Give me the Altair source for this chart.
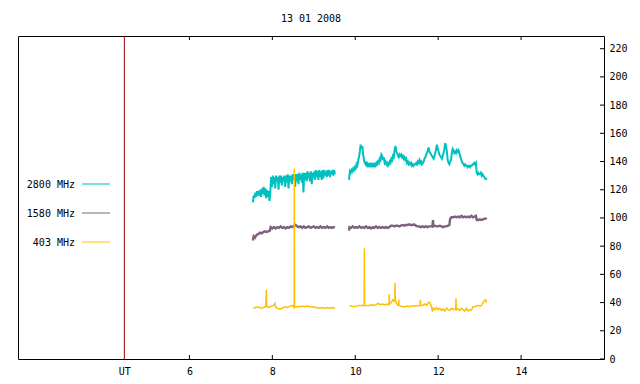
import altair as alt
import pandas as pd

title_text = "13 01 2008"
x_ticks = [6, 8, 10, 12, 14]
y_ticks = [0, 20, 40, 60, 80, 100, 120, 140, 160, 180, 200, 220]
ut_pos = 4.43
x_domain = [1.865, 16.0]
y_domain = [0, 229]

series_names = ["2800 MHz", "1580 MHz", "403 MHz"]
series_colors = ["#00c0c0", "#806080", "#ffc000"]
series_widths = [2, 2.4, 1.5]
ut_color = "#a00000"

# ---- 2800 MHz ----
t2800_a = [7.53, 7.55, 7.57, 7.59, 7.61, 7.63, 7.65, 7.67, 7.69, 7.71,
           7.73, 7.75, 7.77, 7.79, 7.81, 7.83, 7.85, 7.87, 7.89, 7.91,
           7.93, 7.95, 7.97, 7.99, 8.01, 8.03, 8.05, 8.07, 8.09, 8.11,
           8.13, 8.15, 8.17, 8.19, 8.21, 8.23, 8.25, 8.27, 8.29, 8.31,
           8.33, 8.35, 8.37, 8.39, 8.41, 8.43, 8.45, 8.47, 8.49, 8.51,
           8.53, 8.55, 8.57, 8.59, 8.61, 8.63, 8.65, 8.67, 8.69, 8.71,
           8.73, 8.75, 8.77, 8.79, 8.81, 8.83, 8.85, 8.87, 8.89, 8.91,
           8.93, 8.95, 8.97, 8.99, 9.01, 9.03, 9.05, 9.07, 9.09, 9.11,
           9.13, 9.15, 9.17, 9.19, 9.21, 9.23, 9.25, 9.27, 9.29, 9.31,
           9.33, 9.35, 9.37, 9.39, 9.41, 9.43, 9.45, 9.47, 9.49, 9.51]
v2800_a = [111, 116, 114, 118, 115, 119, 116, 118, 117, 120,
           115, 121, 117, 122, 116, 121, 114, 120, 115, 119,
           112, 118, 129, 122, 130, 124, 129, 121, 130, 126,
           129, 120, 130, 125, 130, 123, 129, 126, 130, 122,
           130, 125, 131, 121, 130, 126, 130, 124, 131, 127,
           131, 122, 131, 126, 131, 124, 132, 127, 131, 125,
           132, 118, 132, 127, 132, 126, 133, 128, 132, 126,
           133, 124, 132, 128, 133, 127, 134, 129, 133, 127,
           134, 129, 133, 127, 134, 128, 134, 130, 133, 129,
           134, 130, 134, 129, 133, 131, 134, 130, 134, 131]
t2800_b = [9.85, 9.87, 9.89, 9.91, 9.93, 9.95, 9.97, 9.99, 10.01, 10.03,
           10.05, 10.07, 10.09, 10.11, 10.13, 10.15, 10.17, 10.19, 10.21, 10.23,
           10.25, 10.27, 10.29, 10.31, 10.33, 10.35, 10.37, 10.39, 10.41, 10.43,
           10.45, 10.47, 10.49, 10.51, 10.53, 10.55, 10.57, 10.59, 10.61, 10.63,
           10.65, 10.67, 10.69, 10.71, 10.73, 10.75, 10.77, 10.79, 10.81, 10.83,
           10.85, 10.87, 10.89, 10.91, 10.93, 10.95, 10.97, 10.99, 11.01, 11.03,
           11.05, 11.07, 11.09, 11.11, 11.13, 11.15, 11.17, 11.19, 11.21, 11.23,
           11.25, 11.27, 11.29, 11.31, 11.33, 11.35, 11.37, 11.39, 11.41, 11.43,
           11.45, 11.47, 11.49, 11.51, 11.53, 11.55, 11.57, 11.59, 11.61, 11.63,
           11.65, 11.67, 11.69, 11.71, 11.73, 11.75, 11.77, 11.79, 11.81, 11.83,
           11.85, 11.87, 11.89, 11.91, 11.93, 11.95, 11.97, 11.99, 12.01, 12.03,
           12.05, 12.07, 12.09, 12.11, 12.13, 12.15, 12.17, 12.19, 12.21, 12.23,
           12.25, 12.27, 12.29, 12.31, 12.33, 12.35, 12.37, 12.39, 12.41, 12.43,
           12.45, 12.47, 12.49, 12.51, 12.53, 12.55, 12.57, 12.59, 12.61, 12.63,
           12.65, 12.67, 12.69, 12.71, 12.73, 12.75, 12.77, 12.79, 12.81, 12.83,
           12.85, 12.87, 12.89, 12.91, 12.93, 12.95, 12.97, 12.99, 13.01, 13.03,
           13.05, 13.07, 13.09, 13.11, 13.13, 13.15, 13.17]
v2800_b = [127, 133, 132, 134, 133, 135, 134, 136, 135, 138,
           137, 141, 143, 147, 152, 149, 151, 145, 141, 139,
           138, 140, 136, 138, 137, 139, 136, 138, 137, 139,
           136, 138, 137, 139, 138, 140, 139, 142, 141, 145,
           144, 141, 143, 139, 140, 138, 139, 137, 138, 140,
           139, 142, 141, 144, 143, 148, 151, 147, 146, 144,
           143, 145, 144, 145, 143, 144, 142, 143, 141, 142,
           139, 140, 138, 139, 138, 139, 137, 138, 137, 138,
           138, 139, 138, 140, 139, 141, 139, 140, 138, 139,
           140, 142, 143, 145, 146, 148, 150, 147, 146, 145,
           144, 143, 142, 144, 146, 149, 152, 149, 147, 145,
           144, 143, 142, 144, 146, 149, 153, 151, 147, 141,
           139, 138, 140, 141, 146, 149, 148, 146, 147, 146,
           148, 147, 148, 146, 144, 142, 140, 139, 138, 137,
           138, 137, 137, 136, 137, 137, 136, 137, 137, 138,
           138, 139, 138, 139, 132, 131, 132, 131, 131, 132,
           130, 131, 130, 129, 128, 128, 127]

# ---- 1580 MHz ----
t1580_a = [7.53, 7.55, 7.58, 7.62, 7.66, 7.70, 7.74, 7.78, 7.82, 7.86,
           7.90, 7.94, 7.96, 8.00, 8.04, 8.08, 8.12, 8.16, 8.20, 8.24,
           8.28, 8.32, 8.36, 8.40, 8.44, 8.48, 8.52, 8.56, 8.60, 8.64,
           8.68, 8.72, 8.76, 8.80, 8.84, 8.88, 8.92, 8.96, 9.00, 9.04,
           9.08, 9.12, 9.16, 9.20, 9.24, 9.28, 9.32, 9.36, 9.40, 9.44,
           9.48, 9.51]
v1580_a = [84, 87, 86, 88, 88.5, 89.5, 89, 90, 90.5, 90,
           90.5, 91, 93.5, 92.5, 93.5, 92.5, 93.5, 93, 94, 93,
           93.5, 92.5, 93.5, 93, 94, 93.5, 94.5, 95, 94, 93.5,
           94, 93, 94, 93, 93.5, 94, 93, 93.5, 94, 93,
           93.5, 93, 94, 93, 93.5, 93, 94, 93, 93.5, 93,
           93.5, 93]
t1580_b = [9.85, 9.86, 9.90, 9.94, 9.98, 10.02, 10.06, 10.10, 10.14, 10.18,
           10.22, 10.26, 10.30, 10.34, 10.38, 10.42, 10.46, 10.50, 10.54, 10.58,
           10.62, 10.66, 10.70, 10.74, 10.78, 10.82, 10.86, 10.90, 10.94, 10.98,
           11.02, 11.06, 11.10, 11.14, 11.18, 11.22, 11.26, 11.30, 11.34, 11.38,
           11.42, 11.46, 11.50, 11.54, 11.58, 11.62, 11.66, 11.70, 11.74, 11.78,
           11.82, 11.86, 11.875, 11.885, 11.92, 11.96, 12.00, 12.04, 12.08, 12.12,
           12.16, 12.20, 12.24, 12.27, 12.29, 12.32, 12.36, 12.40, 12.44, 12.48,
           12.52, 12.56, 12.60, 12.64, 12.68, 12.72, 12.76, 12.80, 12.84, 12.88,
           12.91, 12.93, 12.96, 13.00, 13.04, 13.08, 13.12, 13.15, 13.17]
v1580_b = [91, 93.5, 93, 94, 93, 93.5, 93, 94, 93, 93.5,
           93, 94, 93, 93.5, 92.5, 93.5, 93, 94, 93, 93.5,
           93, 93.5, 93, 93.5, 93, 93.5, 94.5, 94.5, 94, 94.5,
           94.5, 94, 94.5, 95, 94.5, 95, 95, 95.5, 95, 95,
           95.5, 94.5, 94, 94, 93.5, 94, 93.5, 94, 93.5, 94,
           94, 94, 98.5, 94, 94.5, 94, 94, 94.5, 94, 93.5,
           94, 94, 94.5, 95, 99.5, 100.5, 100.5, 101, 100.5, 101,
           100.5, 101.5, 100.5, 101, 100.5, 101, 100.5, 101.5, 100.5, 101,
           101.5, 98.5, 98.5, 99, 98.5, 99, 99.5, 99.5, 100]

# ---- 403 MHz ----
t403_a = [7.54, 7.60, 7.66, 7.72, 7.78, 7.84, 7.855, 7.865, 7.92, 7.98,
          8.03, 8.065, 8.075, 8.12, 8.18, 8.24, 8.30, 8.36, 8.42, 8.48,
          8.525, 8.53, 8.535, 8.60, 8.66, 8.72, 8.78, 8.84, 8.90, 8.96,
          9.02, 9.08, 9.14, 9.20, 9.26, 9.32, 9.38, 9.44, 9.51]
v403_a = [36, 36.5, 37, 36, 36.5, 37, 49, 37, 36.5, 37.5,
          38, 39.5, 37, 36, 35.5, 36, 37, 36.5, 37.5, 38,
          36.5, 135, 37, 37, 37, 37.5, 37, 37.5, 37, 37,
          36.5, 36.5, 36, 36.5, 36, 36.5, 36, 36.5, 36]
t403_b = [9.86, 9.92, 9.98, 10.04, 10.10, 10.16, 10.215, 10.22, 10.225, 10.28,
          10.34, 10.40, 10.46, 10.50, 10.55, 10.60, 10.66, 10.72, 10.78, 10.815,
          10.82, 10.825, 10.87, 10.90, 10.93, 10.955, 10.96, 10.965, 10.99, 11.03,
          11.045, 11.05, 11.055, 11.10, 11.15, 11.20, 11.25, 11.30, 11.35, 11.40,
          11.45, 11.50, 11.565, 11.57, 11.575, 11.62, 11.68, 11.72, 11.76, 11.80,
          11.83, 11.86, 11.88, 11.92, 11.96, 12.00, 12.04, 12.08, 12.12, 12.16,
          12.20, 12.24, 12.28, 12.32, 12.36, 12.40, 12.425, 12.43, 12.435, 12.48,
          12.52, 12.56, 12.60, 12.64, 12.68, 12.72, 12.76, 12.80, 12.84, 12.88,
          12.92, 12.96, 13.00, 13.04, 13.08, 13.11, 13.14, 13.17]
v403_b = [37.5, 37.5, 37, 37.5, 38, 38, 38, 78.5, 38, 38,
          38, 38.5, 38, 38.5, 39.5, 38.5, 39, 38.5, 39, 38.5,
          46, 39, 40, 42, 41, 43, 54, 42, 40, 38,
          38, 42, 38, 37.5, 37, 37, 37.5, 37, 37.5, 37.5,
          37.5, 37.5, 38, 42, 38, 38, 39, 38, 40, 40,
          38, 33.7, 36, 35, 36.5, 35, 36, 34.5, 35.5, 34,
          36, 35, 34.5, 36, 35, 35.5, 35, 43, 35, 35.5,
          34.5, 36, 35, 34, 36, 34, 35, 34.5, 37, 37,
          37.5, 38, 37.5, 38, 40, 41, 42, 40]

segments = [
    ("2800 MHz", "a", t2800_a, v2800_a),
    ("2800 MHz", "b", t2800_b, v2800_b),
    ("1580 MHz", "a", t1580_a, v1580_a),
    ("1580 MHz", "b", t1580_b, v1580_b),
    ("403 MHz", "a", t403_a, v403_a),
    ("403 MHz", "b", t403_b, v403_b),
]

W, H = 586, 323
FONT = "DejaVu Sans Mono"

xs = alt.Scale(domain=x_domain, nice=False, zero=False)
ys = alt.Scale(domain=y_domain, nice=False, zero=False)
x_axis = alt.Axis(values=[ut_pos] + x_ticks,
                  labelExpr="datum.value < 5 ? 'UT' : datum.label",
                  tickSize=0, domain=False, grid=False, title=None,
                  labelPadding=7, labelOverlap=False, labelFlush=False)
y_axis = alt.Axis(orient="right", values=y_ticks, tickSize=0, domain=False,
                  grid=False, title=None, labelPadding=5, labelOverlap=False,
                  labelFlush=False)

layers = []

# UT marker line
ut_df = pd.DataFrame({"t": [ut_pos]})
layers.append(alt.Chart(ut_df).mark_rule(color=ut_color, strokeWidth=1).encode(
    x=alt.X("t:Q", scale=xs, axis=x_axis)))

# series lines
for name, color, sw in zip(series_names, series_colors, series_widths):
    rows = []
    for sname, seg, ts, vs in segments:
        if sname != name:
            continue
        for t, v in zip(ts, vs):
            rows.append({"t": t, "v": v, "seg": seg})
    d = pd.DataFrame(rows)
    layers.append(alt.Chart(d).mark_line(color=color, strokeWidth=sw, clip=True).encode(
        x=alt.X("t:Q", scale=xs, axis=x_axis),
        y=alt.Y("v:Q", scale=ys, axis=y_axis),
        detail="seg:N",
    ))

# tick marks (inward, gnuplot style)
xt_df = pd.DataFrame({"t": x_ticks})
yt_df = pd.DataFrame({"v": y_ticks})
layers.append(alt.Chart(xt_df).mark_rule(color="black", strokeWidth=1).encode(
    x=alt.X("t:Q", scale=xs, axis=x_axis), y=alt.value(H - 4), y2=alt.value(H)))
layers.append(alt.Chart(xt_df).mark_rule(color="black", strokeWidth=1).encode(
    x=alt.X("t:Q", scale=xs, axis=x_axis), y=alt.value(0), y2=alt.value(4)))
layers.append(alt.Chart(yt_df).mark_rule(color="black", strokeWidth=1).encode(
    y=alt.Y("v:Q", scale=ys, axis=y_axis), x=alt.value(W - 4), x2=alt.value(W)))

# legend (text left of line sample, as in gnuplot)
one = pd.DataFrame({"k": [0]})
for i, (name, color) in enumerate(zip(series_names, series_colors)):
    ly = 149 + 29 * i
    layers.append(alt.Chart(one).mark_text(
        text=name, align="right", baseline="middle", font=FONT, fontSize=10,
        color="black").encode(x=alt.value(57), y=alt.value(ly)))
    layers.append(alt.Chart(one).mark_rule(color=color, strokeWidth=1).encode(
        x=alt.value(64), x2=alt.value(92), y=alt.value(ly - 1)))

chart = alt.layer(*layers).properties(
    width=W, height=H,
    title=alt.TitleParams(title_text, font=FONT, fontSize=10, fontWeight="normal",
                          color="black", anchor="middle", offset=12),
    padding={"left": 10, "top": 28, "right": 26, "bottom": 18},
    autosize=alt.AutoSizeParams(type="none"),
).configure_view(
    stroke="black", strokeWidth=1
).configure_axis(
    labelFont=FONT, labelFontSize=10, labelColor="black", labelOverlap=False
)

chart.save("out.html", embed_options={"renderer": "svg", "actions": False})
